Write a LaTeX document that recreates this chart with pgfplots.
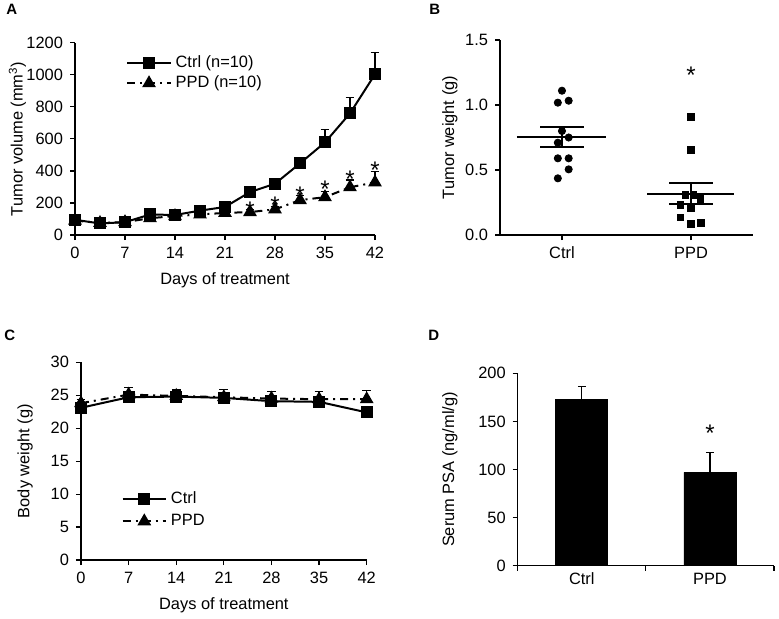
\documentclass[border=0pt]{standalone}
\usepackage{pgfplots}
\pgfplotsset{compat=1.18}
\usepackage{fontspec}
\setmainfont{Liberation Sans}
\begin{document}
\begin{tikzpicture}[font=\fontsize{8.2}{9.8}\selectfont]
\pgfplotsset{
  every axis/.append style={
    scale only axis,
    axis lines*=left,
    axis line style={-, line width=0.6pt},
    tick align=outside,
    major tick length=2.5pt,
    tick style={line width=0.6pt, black},
    /pgf/number format/assume math mode=true,
    /pgf/number format/1000 sep={},
    tick label style={font=\fontsize{8.2}{9.8}\selectfont},
    label style={font=\fontsize{8.2}{9.8}\selectfont},
    clip=false,
  },
  lineleg/.style={legend image code/.code={
    \draw[mark repeat=2, mark phase=2, ##1] plot coordinates {(0cm,0cm) (0.38cm,0cm) (0.76cm,0cm)};}},
  ctrl/.style={black, line width=1pt, mark=square*, mark size=2.5pt, mark options={solid, fill=black}},
  ppd/.style={black, line width=1pt, dash pattern=on 4pt off 2.5pt on 1pt off 2.5pt, mark=triangle*, mark size=3pt, mark options={solid, fill=black}},
  ebar/.style={error bars/.cd, y dir=plus, y explicit, error bar style={line width=0.6pt, solid, black}, error mark options={rotate=90, mark size=2.2pt, line width=0.6pt, solid, black}},
  star/.style={draw=none, forget plot, nodes near coords={*},
    every node near coord/.style={anchor=center, inner sep=0pt, font=\fontsize{12}{12}\selectfont}},
}
\useasboundingbox (0,0) rectangle (389.5pt,309pt);

% ---------------- Panel A ----------------
\begin{axis}[at={(37.5pt,191.5pt)}, anchor=south west, width=150pt, height=96.15pt,
  xmin=0, xmax=42, ymin=0, ymax=1200,
  xtick={0,7,...,42}, ytick={0,200,...,1200},
  xlabel={Days of treatment}, ylabel={Tumor volume (mm\textsuperscript{3})},
  ylabel style={at={(axis description cs:-0.14,0.5)}, anchor=south},
  lineleg,
  legend style={at={(0.15,0.975)}, anchor=north west, draw=none, fill=none, row sep=-1.5pt,
    font=\fontsize{8.2}{9.8}\selectfont},
  legend cell align=left]
\addplot[ctrl, ebar] coordinates {
 (0,95) +- (0,8) (3.5,72) +- (0,6) (7,80) +- (0,8) (10.5,128) +- (0,10) (14,125) +- (0,10)
 (17.5,152) +- (0,12) (21,175) +- (0,14) (24.5,268) +- (0,18) (28,320) +- (0,15)
 (31.5,447) +- (0,35) (35,578) +- (0,82) (38.5,759) +- (0,100) (42,1003) +- (0,137)};
\addlegendentry{Ctrl (n=10)}
\addplot[ppd, ebar] coordinates {
 (0,90) +- (0,6) (3.5,75) +- (0,6) (7,80) +- (0,6) (10.5,105) +- (0,8) (14,118) +- (0,8)
 (17.5,128) +- (0,8) (21,138) +- (0,10) (24.5,143) +- (0,17) (28,160) +- (0,20)
 (31.5,218) +- (0,27) (35,236) +- (0,35) (38.5,298) +- (0,45) (42,328) +- (0,67)};
\addlegendentry{PPD (n=10)}
\addplot[star] coordinates {(24.5,154) (28,185) (31.5,248) (35,283) (38.5,347) (42,404)};
\end{axis}

% ---------------- Panel B ----------------
\begin{axis}[at={(250pt,191.5pt)}, anchor=south west, width=126.5pt, height=97.5pt,
  xmin=0.52, xmax=2.48, ymin=0, ymax=1.5,
  xtick={1,2}, xticklabels={Ctrl,PPD}, ytick={0,0.5,1,1.5},
  yticklabel style={/pgf/number format/.cd, fixed, fixed zerofill, precision=1},
  ylabel={Tumor weight (g)},
  ylabel style={at={(axis description cs:-0.14,0.5)}, anchor=south}]
\addplot[only marks, mark=*, mark size=1.8pt, black] coordinates {
 (1.0,1.11) (0.968,1.018) (1.052,1.033) (1.0,0.80) (1.052,0.75) (0.968,0.71)
 (0.968,0.59) (1.052,0.59) (1.052,0.505) (0.968,0.436)};
\addplot[only marks, mark=square*, mark size=1.7pt, black] coordinates {
 (2.0,0.91) (2.0,0.654) (1.956,0.31) (2.018,0.31) (2.072,0.275) (1.917,0.23)
 (2.0,0.205) (1.917,0.136) (2.0,0.085) (2.075,0.095)};
\addplot[black, line width=1pt] coordinates {(0.65,0.756) (1.34,0.756)};
\addplot[black, line width=1pt] coordinates {(1.66,0.318) (2.33,0.318)};
\addplot[draw=none, mark=none, error bars/.cd, y dir=both, y explicit,
  error bar style={line width=0.8pt, black}, error mark options={rotate=90, mark size=10.8pt, line width=1pt, black}]
  coordinates {(1.0,0.756) +- (0,0.076) (2.0,0.318) +- (0,0.082)};
\addplot[star] coordinates {(2,1.23)};
\end{axis}

% ---------------- Panel C ----------------
\begin{axis}[at={(40.5pt,29pt)}, anchor=south west, width=142.85pt, height=98.85pt,
  xmin=0, xmax=42, ymin=0, ymax=30,
  xtick={0,7,...,42}, ytick={0,5,...,30},
  xlabel={Days of treatment}, ylabel={Body weight (g)},
  ylabel style={at={(axis description cs:-0.144,0.5)}, anchor=south},
  lineleg,
  legend style={at={(0.12,0.39)}, anchor=north west, draw=none, fill=none, row sep=0pt,
    font=\fontsize{8.2}{9.8}\selectfont},
  legend cell align=left]
\addplot[ctrl, error bars/.cd, y dir=both, y explicit, error bar style={line width=0.6pt, black}, error mark options={rotate=90, mark size=2.2pt, line width=0.6pt, black}] coordinates {
 (0,23.1) +- (0,0.5) (7,24.7) +- (0,0.6) (14,24.8) +- (0,0.8) (21,24.6) +- (0,0.6)
 (28,24.1) +- (0,0.6) (35,24.0) +- (0,0.6) (42,22.4) +- (0,0.6)};
\addlegendentry{Ctrl}
\addplot[ppd, ebar] coordinates {
 (0,23.8) +- (0,0.5) (7,25.1) +- (0,1.1) (14,24.9) +- (0,0.9) (21,24.7) +- (0,1.2)
 (28,24.5) +- (0,1.1) (35,24.4) +- (0,1.2) (42,24.4) +- (0,1.3)};
\addlegendentry{PPD}
\end{axis}

% ---------------- Panel D ----------------
\begin{axis}[at={(258.85pt,26.15pt)}, anchor=south west, width=128.15pt, height=96.2pt,
  xmin=0.5, xmax=2.5, ymin=0, ymax=200, ytick={0,50,...,200},
  xtick={0.5,1.5,2.5}, xticklabels={},
  extra x ticks={1,2}, extra x tick labels={Ctrl,PPD}, extra x tick style={major tick length=0pt},
  ylabel={Serum PSA (ng/ml/g)},
  ylabel style={at={(axis description cs:-0.207,0.5)}, anchor=south},
  ybar, bar width=0.406]
\addplot[fill=black, draw=black, error bars/.cd, y dir=plus, y explicit,
  error bar style={line width=0.6pt, black}, error mark options={rotate=90, mark size=2pt, line width=0.6pt, black}]
  coordinates {(1,173) +- (0,13) (2,97) +- (0,21)};
\addplot[star, fill=none, bar shift=0pt] coordinates {(2,137.5)};
\end{axis}

\node[anchor=north west, inner sep=0pt, font=\fontsize{7.5}{9}\selectfont\bfseries] at (3pt,307pt) {A};
\node[anchor=north west, inner sep=0pt, font=\fontsize{7.5}{9}\selectfont\bfseries] at (214.5pt,307pt) {B};
\node[anchor=north west, inner sep=0pt, font=\fontsize{7.5}{9}\selectfont\bfseries] at (2pt,144pt) {C};
\node[anchor=north west, inner sep=0pt, font=\fontsize{7.5}{9}\selectfont\bfseries] at (214pt,144pt) {D};
\end{tikzpicture}
\end{document}
